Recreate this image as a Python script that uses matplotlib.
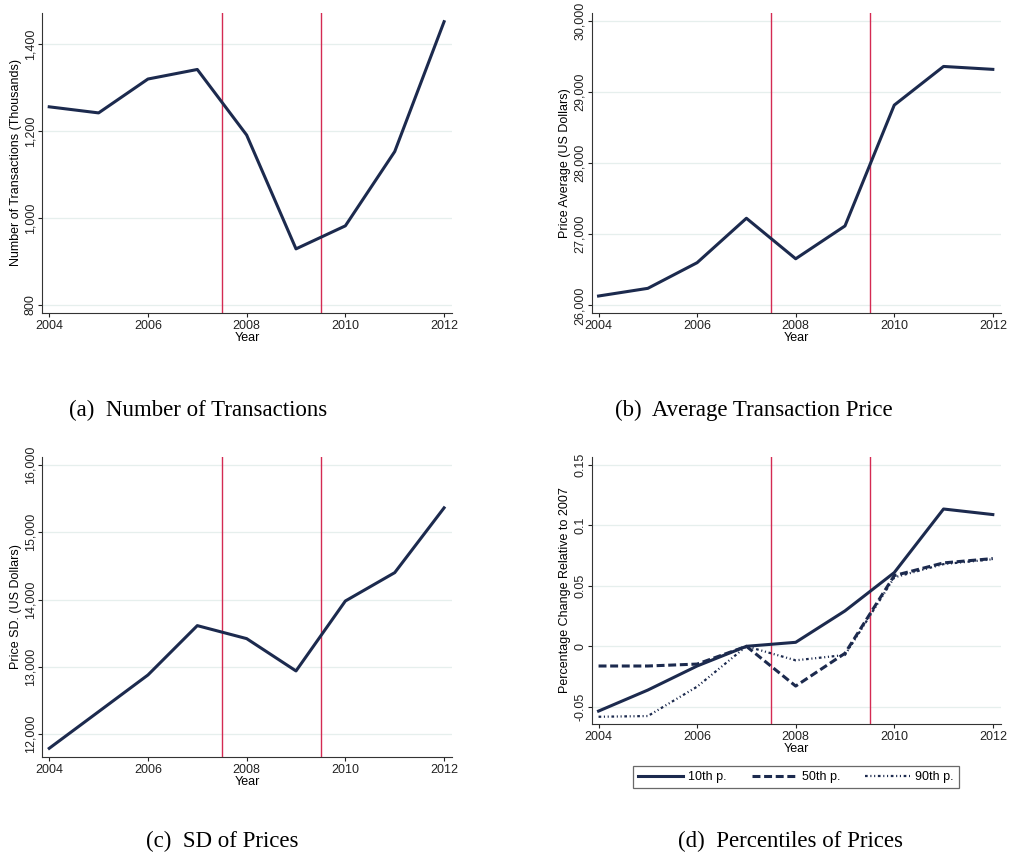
import numpy as np
import matplotlib.pyplot as plt
from matplotlib.ticker import FuncFormatter

years = [2004, 2005, 2006, 2007, 2008, 2009, 2010, 2011, 2012]

# transactions, thousands
n_trans = [1256, 1242, 1320, 1342, 1191, 929, 982, 1153, 1452]
# average price, US dollars
avg_price = [26131, 26239, 26600, 27225, 26655, 27117, 28817, 29361, 29320]
# price standard deviation, US dollars
sd_price = [11792, 12336, 12881, 13614, 13421, 12941, 13980, 14401, 15363]
# percentage change relative to 2007
p10 = [-0.0536, -0.0362, -0.0163, 0.0, 0.0033, 0.0293, 0.0610, 0.1136, 0.1090]
p50 = [-0.0163, -0.0163, -0.0147, 0.0, -0.0329, -0.0058, 0.0585, 0.0690, 0.0726]
p90 = [-0.0583, -0.0577, -0.0334, 0.0, -0.0116, -0.0072, 0.0570, 0.0680, 0.0720]

crisis_years = [2007.5, 2009.5]

navy = '#1c2a4e'
red = '#d42a52'
grid_col = '#e6efed'

plt.rcParams['font.family'] = ['Liberation Sans', 'DejaVu Sans']

fig = plt.figure(figsize=(10.10, 8.61), dpi=100)

def comma(v, pos):
    return f'{v:,.0f}'

def setup(ax, ylabel, yticks, ylim, fmt):
    ax.set_xlim(2003.86, 2012.16)
    ax.set_ylim(*ylim)
    ax.set_xticks([2004, 2006, 2008, 2010, 2012])
    ax.set_yticks(yticks)
    ax.yaxis.set_major_formatter(fmt)
    for t in ax.get_yticklabels():
        t.set_rotation(90)
        t.set_va('center')
    ax.tick_params(labelsize=9, length=3, width=0.8, pad=2, colors='#222222')
    ax.tick_params(axis='y', pad=1)
    ax.spines['top'].set_visible(False)
    ax.spines['right'].set_visible(False)
    for s in ['left', 'bottom']:
        ax.spines[s].set_color('#333333')
        ax.spines[s].set_linewidth(0.8)
    ax.grid(axis='y', color=grid_col, lw=0.9)
    ax.set_axisbelow(True)
    ax.set_xlabel('Year', fontsize=9, labelpad=0)
    ax.set_ylabel(ylabel, fontsize=9, labelpad=2)
    for x in crisis_years:
        ax.axvline(x, color=red, lw=1.0, zorder=2)

ax_a = fig.add_axes([0.0419, 0.6368, 0.4056, 0.3481])
setup(ax_a, 'Number of Transactions (Thousands)', [800, 1000, 1200, 1400],
      (782, 1472), FuncFormatter(comma))
ax_a.plot(years, n_trans, color=navy, lw=2.2, zorder=3)

ax_b = fig.add_axes([0.5858, 0.6368, 0.4050, 0.3481])
setup(ax_b, 'Price Average (US Dollars)', [26000, 27000, 28000, 29000, 30000],
      (25896, 30113), FuncFormatter(comma))
ax_b.plot(years, avg_price, color=navy, lw=2.2, zorder=3)

ax_c = fig.add_axes([0.0419, 0.1211, 0.4056, 0.3485])
setup(ax_c, 'Price SD. (US Dollars)', [12000, 13000, 14000, 15000, 16000],
      (11667, 16123), FuncFormatter(comma))
ax_c.plot(years, sd_price, color=navy, lw=2.2, zorder=3)

ax_d = fig.add_axes([0.5858, 0.1591, 0.4050, 0.3105])
setup(ax_d, 'Percentage Change Relative to 2007', [-0.05, 0, 0.05, 0.1, 0.15],
      (-0.0643, 0.1569), FuncFormatter(lambda v, p: f'{v:g}' if abs(v) > 1e-9 else '0'))
l1, = ax_d.plot(years, p10, color=navy, lw=2.2, zorder=3, label='10th p.')
l2, = ax_d.plot(years, p50, color=navy, lw=2.2, zorder=3, label='50th p.',
                dashes=(2.6, 1.2))
l3, = ax_d.plot(years, p90, color=navy, lw=1.6, zorder=3, label='90th p.',
                dashes=(1.2, 1.2, 0.5, 1.2, 0.5, 1.2))
leg = fig.legend(handles=[l1, l2, l3], loc='center', ncol=3,
                 bbox_to_anchor=(0.788, 0.0971), fontsize=9, frameon=True,
                 fancybox=False, edgecolor='#444444', handlelength=3.6,
                 handletextpad=0.4, columnspacing=2.0, borderpad=0.4)
leg.get_frame().set_linewidth(0.9)

cap = dict(fontsize=16.5, family='Liberation Serif', ha='center', va='center')
fig.text(198 / 1010, 1 - 410 / 861, '(a)  Number of Transactions', **cap)
fig.text(754 / 1010, 1 - 410 / 861, '(b)  Average Transaction Price', **cap)
fig.text(222 / 1010, 1 - 841 / 861, '(c)  SD of Prices', **cap)
fig.text(790 / 1010, 1 - 841 / 861, '(d)  Percentiles of Prices', **cap)

fig.savefig('out.png', dpi=100)
